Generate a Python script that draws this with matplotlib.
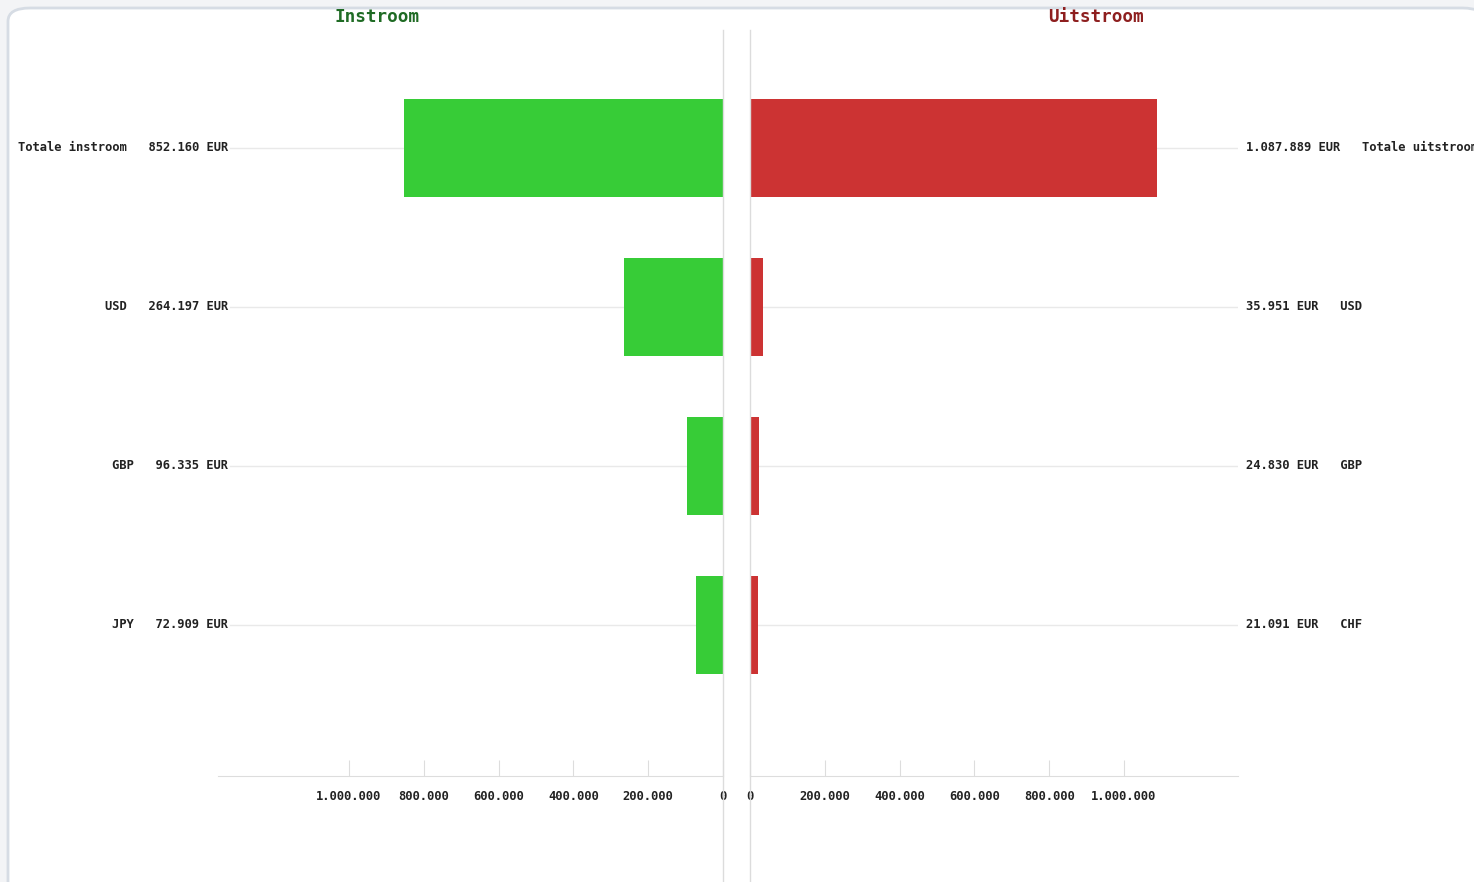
import matplotlib
matplotlib.use('Agg')
import matplotlib.pyplot as plt
from matplotlib.patches import FancyBboxPatch
from matplotlib.lines import Line2D
from matplotlib.ticker import FuncFormatter

# data
in_labels = ['Totale instroom', 'USD', 'GBP', 'JPY']
in_values = [852160, 264197, 96335, 72909]
out_labels = ['Totale uitstroom', 'USD', 'GBP', 'CHF']
out_values = [1087889, 35951, 24830, 21091]
tick_vals = [0, 200000, 400000, 600000, 800000, 1000000]

W, H = 1474, 882
c_in = '#37cc37'
c_out = '#cc3333'
c_grid = '#e9e9e9'
c_text = '#222222'
mono = 'DejaVu Sans Mono'

def eur(v):
    return f'{v:,.0f}'.replace(',', '.')

fig = plt.figure(figsize=(W / 100, H / 100), dpi=100)
fig.patch.set_facecolor('#f3f4f6')

# white rounded panel (behind the axes)
panel = FancyBboxPatch((8 / W, -0.05), (W + 40) / W - 8 / W - 0.02, 1.05 - 8 / H,
                       boxstyle='round,pad=0,rounding_size=0.015',
                       transform=fig.transFigure, facecolor='white',
                       edgecolor='#d6dce4', linewidth=2, zorder=-5)
fig.patches.append(panel)

bottom = 1 - 776 / H
height = (776 - 30) / H
ax_l = fig.add_axes([218 / W, bottom, (723 - 218) / W, height])
ax_r = fig.add_axes([750 / W, bottom, (1238 - 750) / W, height])

px_per_unit = 374 / 1e6
ypos = list(range(len(in_values)))

for ax, vals, col, xmax in [(ax_l, in_values, c_in, 505 / px_per_unit),
                            (ax_r, out_values, c_out, 488 / px_per_unit)]:
    ax.set_facecolor('none')
    ax.barh(ypos, vals, height=0.616, color=col, zorder=2)
    ax.set_ylim(3.95, -0.742)
    ax.set_xlim(0, xmax)
    ax.set_yticks([])
    for s in ['top', 'left', 'right']:
        ax.spines[s].set_visible(False)
    ax.spines['bottom'].set_color('#dddddd')
    ax.set_xticks(tick_vals)
    ax.xaxis.set_major_formatter(FuncFormatter(lambda v, p: eur(v)))
    ax.tick_params(axis='x', direction='in', length=11.5, color='#dddddd',
                   pad=10, labelsize=8.7, labelcolor=c_text)
    for lab in ax.get_xticklabels():
        lab.set_fontfamily(mono)
        lab.set_fontweight('bold')

ax_l.invert_xaxis()

# gridlines at each category
for y in ypos:
    ax_l.axhline(y, xmin=12 / 505, xmax=1, color=c_grid, lw=1, zorder=0)
    ax_r.axhline(y, color=c_grid, lw=1, zorder=0)

# category labels
for y, name, v in zip(ypos, in_labels, in_values):
    ax_l.text((228 - 218) / 505, y, f'{name}   {eur(v)} EUR',
              transform=ax_l.get_yaxis_transform(), ha='right', va='center',
              fontsize=8.7, fontfamily=mono, fontweight='bold', color=c_text)
for y, name, v in zip(ypos, out_labels, out_values):
    ax_r.text((1246 - 750) / 488, y, f'{eur(v)} EUR   {name}',
              transform=ax_r.get_yaxis_transform(), ha='left', va='center',
              fontsize=8.7, fontfamily=mono, fontweight='bold', color=c_text)

# center divider lines
for xp in [723, 750]:
    fig.lines.append(Line2D([xp / W, xp / W], [0, 1 - 30 / H],
                            transform=fig.transFigure, color='#dcdcdc', lw=1, zorder=5))

# titles
fig.text(377 / W, 1 - 17 / H, 'Instroom', ha='center', va='center',
         fontsize=12.7, fontfamily=mono, fontweight='bold', color='#1f6b24')
fig.text(1096 / W, 1 - 17 / H, 'Uitstroom', ha='center', va='center',
         fontsize=12.7, fontfamily=mono, fontweight='bold', color='#8e1f1f')

plt.savefig('out.png', dpi=100)
